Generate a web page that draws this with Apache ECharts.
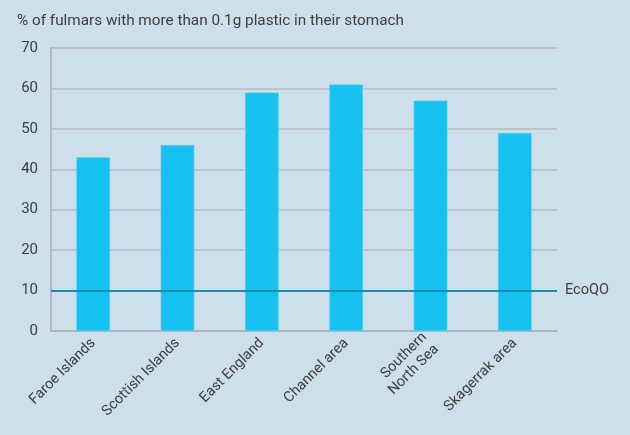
<!DOCTYPE html>
<html>
<head>
<meta charset="utf-8">
<script src="https://cdn.jsdelivr.net/npm/echarts@6/dist/echarts.min.js"></script>
<style>
  html, body { margin: 0; padding: 0; background: #cddfea; }
  #chart { width: 630px; height: 435px; }
</style>
</head>
<body>
<div id="chart"></div>
<script>
// data
const regions = ['Faroe Islands', 'Scottish Islands', 'East England', 'Channel area', 'Southern\nNorth Sea', 'Skagerrak area'];
const plasticShare = [43, 46, 59, 61, 57, 49];
const ecoQO = 10;

const textColor = '#3d3d3d';
const fontFamily = 'Roboto, "Liberation Sans", sans-serif';

const chart = echarts.init(document.getElementById('chart'));

const option = {
    backgroundColor: '#cddfea',
    textStyle: { fontFamily },
    title: {
        text: '% of fulmars with more than 0.1g plastic in their stomach',
        left: 12,
        top: 9,
        textStyle: { fontSize: 15.3, fontWeight: 'normal', color: textColor, fontFamily }
    },
    grid: {
        left: 51,
        right: 73,
        top: 48,
        bottom: 104
    },
    xAxis: {
        type: 'category',
        data: regions,
        axisLine: { lineStyle: { color: '#a9aeb2', width: 1.5 } },
        axisTick: { show: false },
        axisLabel: {
            rotate: 45,
            color: textColor,
            fontSize: 14.5,
            lineHeight: 17,
            margin: 10,
            interval: 0,
            fontFamily
        }
    },
    yAxis: {
        type: 'value',
        min: 0,
        max: 70,
        interval: 10,
        axisLine: { show: true, lineStyle: { color: '#a9aeb2', width: 1.5 } },
        axisTick: { show: false },
        splitLine: { lineStyle: { color: '#b7bcbf', width: 1.5 } },
        axisLabel: { color: textColor, fontSize: 15, margin: 13, fontFamily }
    },
    series: [{
        type: 'bar',
        data: plasticShare,
        barWidth: '40%',
        itemStyle: { color: '#15c1f1', borderColor: '#6fd3f2', borderWidth: 0.6 },
        markLine: {
            silent: true,
            symbol: 'none',
            data: [{ yAxis: ecoQO }],
            lineStyle: { color: '#1a8db2', width: 2.2, type: 'solid' },
            label: {
                position: 'end',
                formatter: 'EcoQO',
                color: textColor,
                fontSize: 14.5,
                distance: 8,
                fontFamily
            }
        }
    }]
};

chart.setOption(option);
</script>
</body>
</html>
